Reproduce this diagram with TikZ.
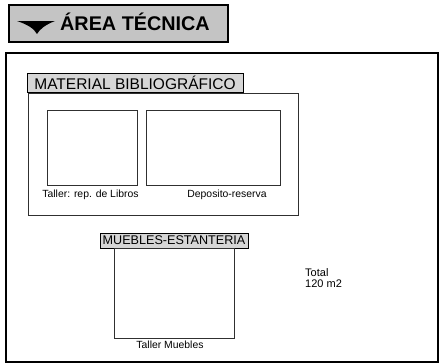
\documentclass[tikz,border=0pt]{standalone}
\usepackage{fontspec}
\setmainfont{Liberation Sans}
\definecolor{titlegray}{HTML}{C4C4C4}
\definecolor{labelgray}{HTML}{D6D6D6}
\definecolor{linegray}{HTML}{303030}
\begin{document}
\begin{tikzpicture}[x=1pt,y=-1pt,
  box/.style={draw=linegray, line width=0.9pt, inner sep=0pt, outer sep=0pt, anchor=north west},
  lbl/.style={draw=black, fill=labelgray, line width=0.8pt, inner sep=0pt, outer sep=0pt, anchor=north west},
  captxt/.style={font=\fontsize{10.4}{12}\selectfont, inner sep=0pt, anchor=base}]
\useasboundingbox (0,0) rectangle (442,364);
% title
\node[box, draw=black, fill=titlegray, line width=2.5pt, minimum width=219pt, minimum height=37pt] (title) at (9,5) {};
\fill[black] (17,21) -- (55,21) .. controls (45,25) and (40,29) .. (37,34) .. controls (34,29) and (29,25) .. (17,21) -- cycle;
\node[font=\bfseries\fontsize{19.8}{21}\selectfont, inner sep=0pt, anchor=base west] (titletext) at (60,30.5) {ÁREA TÉCNICA};
% outer frame
\node[box, draw=black, line width=2.5pt, minimum width=432pt, minimum height=309pt] (outer) at (6,53) {};
% material bibliografico
\node[box, minimum width=270pt, minimum height=122pt] (mat) at (28,93) {};
\node[lbl, minimum width=216pt, minimum height=19pt, font=\fontsize{15.5}{17}\selectfont] (matlbl) at (27,73) {MATERIAL BIBLIOGRÁFICO};
\node[box, minimum width=90pt, minimum height=75pt] (libros) at (47,110) {};
\node[box, minimum width=134pt, minimum height=75pt] (deposito) at (146,110) {};
\node[captxt] (libroscap) at (90.5,197) {Taller: rep. de Libros};
\node[captxt] (depcap) at (227,197) {Deposito-reserva};
% muebles
\node[lbl, minimum width=148pt, minimum height=15pt, font=\fontsize{12.6}{13}\selectfont] (mueblbl) at (100,233) {MUEBLES-ESTANTERIA};
\node[box, minimum width=120pt, minimum height=90pt] (muebles) at (114,248) {};
\node[captxt] (muebcap) at (170,348) {Taller Muebles};
% total
\node[font=\fontsize{11}{12}\selectfont, inner sep=0pt, anchor=base west] (total) at (305,276) {Total};
\node[font=\fontsize{11}{12}\selectfont, inner sep=0pt, anchor=base west] (area) at (305,287) {120 m2};
\end{tikzpicture}
\end{document}
